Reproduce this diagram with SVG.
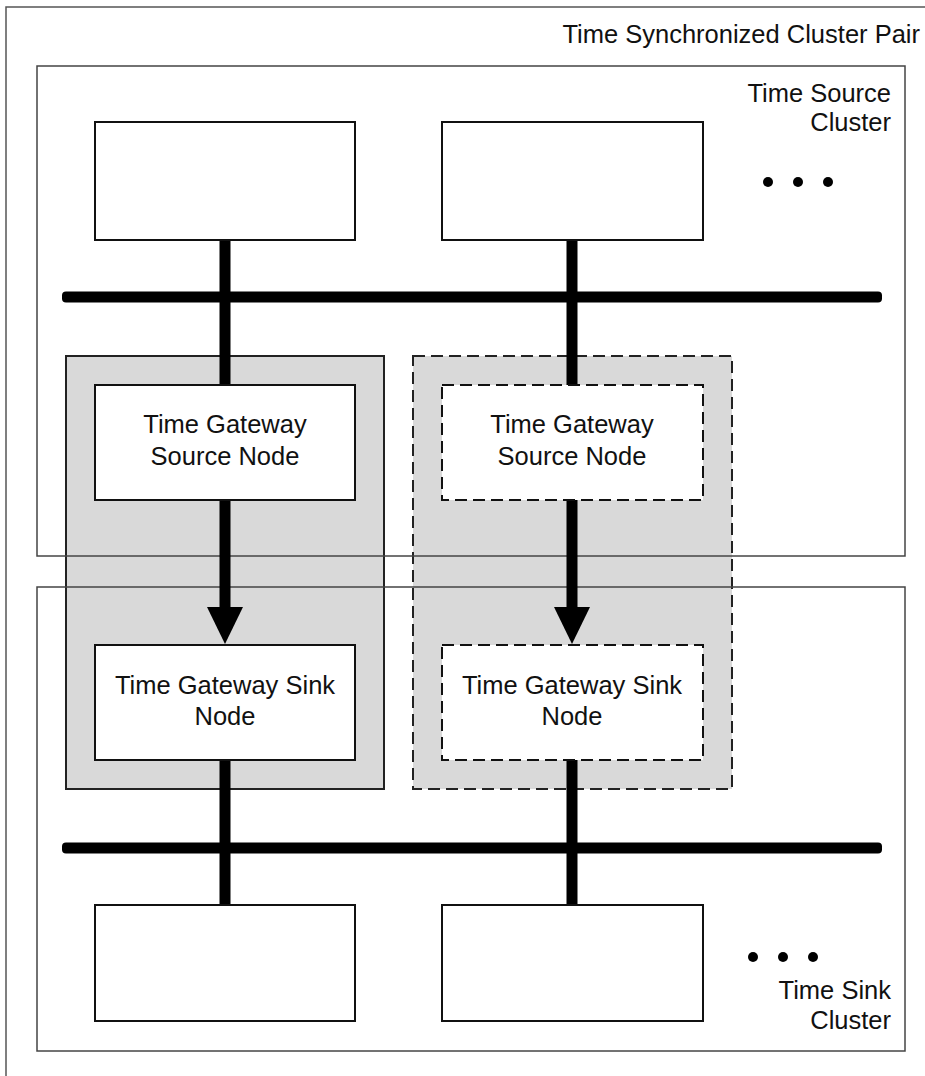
<svg xmlns="http://www.w3.org/2000/svg" width="925" height="1076" viewBox="0 0 925 1076">
<style>
.frame{fill:none;stroke:#555;stroke-width:1.5}
.cluster{fill:none;stroke:#444;stroke-width:1.5}
.gw{fill:#d9d9d9;stroke:#222;stroke-width:2}
.dash{stroke-dasharray:12 6}
.node{fill:#fff;stroke:#111;stroke-width:2}
.wire{stroke:#000;stroke-width:11;fill:none}
.arrow{stroke:#000;stroke-width:11;fill:none;marker-end:url(#ah)}
.bus{fill:#000}
.dot{fill:#000}
text{font-family:"Liberation Sans",Arial,sans-serif;font-size:25.5px;fill:#111}
.c{text-anchor:middle}
.r{text-anchor:end}
</style>
<defs>
<marker id="ah" markerUnits="userSpaceOnUse" markerWidth="37" markerHeight="36" refX="5" refY="18" orient="auto" viewBox="0 0 37 36">
<path d="M0,0 L37,18 L0,36 Z" fill="#000"/>
</marker>
</defs>
<rect width="925" height="1076" fill="#fff"/>
<g id="pair">
<rect class="frame" x="6" y="7" width="1000" height="1100"/>
<text class="r" x="920" y="43">Time Synchronized Cluster Pair</text>
</g>
<g id="gateway-left">
<rect class="gw" x="66" y="356" width="318" height="433"/>
</g>
<g id="gateway-right">
<rect class="gw dash" x="413" y="356" width="319" height="433"/>
</g>
<g id="source-cluster">
<rect class="cluster" x="37" y="66" width="868" height="490"/>
<text class="r" x="891" y="102">Time Source</text>
<text class="r" x="891" y="131">Cluster</text>
<circle class="dot" cx="768" cy="182" r="5"/>
<circle class="dot" cx="798" cy="182" r="5"/>
<circle class="dot" cx="828" cy="182" r="5"/>
</g>
<g id="sink-cluster">
<rect class="cluster" x="37" y="587" width="868" height="464"/>
<text class="r" x="891" y="999">Time Sink</text>
<text class="r" x="891" y="1029">Cluster</text>
<circle class="dot" cx="753" cy="957" r="5"/>
<circle class="dot" cx="783" cy="957" r="5"/>
<circle class="dot" cx="813" cy="957" r="5"/>
</g>
<g id="connectors">
<rect class="bus" x="62" y="291.5" width="820" height="11" rx="4"/>
<rect class="bus" x="62" y="842.5" width="820" height="11" rx="4"/>
<line class="wire" x1="225" y1="240" x2="225" y2="385"/>
<line class="wire" x1="572" y1="240" x2="572" y2="385"/>
<line class="arrow" x1="225" y1="500" x2="225" y2="612"/>
<line class="arrow" x1="572" y1="500" x2="572" y2="612"/>
<line class="wire" x1="225" y1="760" x2="225" y2="905"/>
<line class="wire" x1="572" y1="760" x2="572" y2="905"/>
</g>
<g id="src-node-1"><rect class="node" x="95" y="122" width="260" height="118"/></g>
<g id="src-node-2"><rect class="node" x="442" y="122" width="261" height="118"/></g>
<g id="gw-source-left">
<rect class="node" x="95" y="385" width="260" height="115"/>
<text class="c" x="225" y="433">Time Gateway</text>
<text class="c" x="225" y="465">Source Node</text>
</g>
<g id="gw-source-right">
<rect class="node dash" x="442" y="385" width="261" height="115"/>
<text class="c" x="572" y="433">Time Gateway</text>
<text class="c" x="572" y="465">Source Node</text>
</g>
<g id="gw-sink-left">
<rect class="node" x="95" y="645" width="260" height="115"/>
<text class="c" x="225" y="694">Time Gateway Sink</text>
<text class="c" x="225" y="725">Node</text>
</g>
<g id="gw-sink-right">
<rect class="node dash" x="442" y="645" width="261" height="115"/>
<text class="c" x="572" y="694">Time Gateway Sink</text>
<text class="c" x="572" y="725">Node</text>
</g>
<g id="sink-node-1"><rect class="node" x="95" y="905" width="260" height="116"/></g>
<g id="sink-node-2"><rect class="node" x="442" y="905" width="261" height="116"/></g>
</svg>
